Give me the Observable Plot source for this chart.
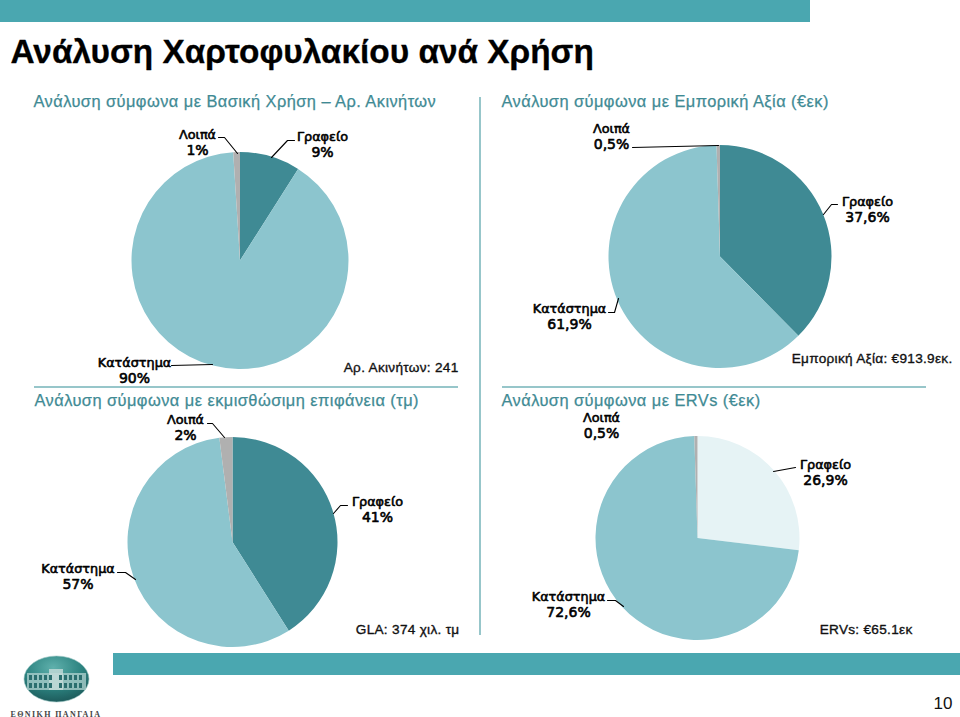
<!DOCTYPE html>
<html lang="el">
<head>
<meta charset="utf-8">
<script src="https://cdn.jsdelivr.net/npm/d3@7"></script>
<script src="https://cdn.jsdelivr.net/npm/@observablehq/plot@0.6"></script>
<style>html,body{margin:0;padding:0;background:#fff}svg{display:block}</style>
</head>
<body>
<div id="chart"></div>
<script>
// Data
const categories = ["Γραφείο", "Κατάστημα", "Λοιπά"];
const useValues = [9, 90, 1];
const marketValues = [37.6, 61.9, 0.5];
const areaValues = [41, 57, 2];
const ervValues = [26.9, 72.6, 0.5];
const useLabels = ["9%", "90%", "1%"];
const marketLabels = ["37,6%", "61,9%", "0,5%"];
const areaLabels = ["41%", "57%", "2%"];
const ervLabels = ["26,9%", "72,6%", "0,5%"];
const titleText = "Ανάλυση Χαρτοφυλακίου ανά Χρήση";
const subtitles = ["Ανάλυση σύμφωνα με Βασική Χρήση – Αρ. Ακινήτων", "Ανάλυση σύμφωνα με Εμπορική Αξία (€εκ)", "Ανάλυση σύμφωνα με εκμισθώσιμη επιφάνεια (τμ)", "Ανάλυση σύμφωνα με ERVs (€εκ)"];
const totals = ["Αρ. Ακινήτων: 241", "Εμπορική Αξία: €913.9εκ.", "GLA: 374 χιλ. τμ", "ERVs: €65.1εκ"];

// Layout and styling
const DARK = "#3f8a94", LIGHT = "#8cc5ce", PALE = "#e6f3f5", GREY = "#b0b0b0", TEAL = "#4aa7b0", RULE = "#74b3b9";
const pieLayout = [
  {values: useValues, labels: useLabels, cx: 240, cy: 260.5, r: 108.5, fills: [DARK, LIGHT, GREY],
   text: [[322, 140], [134, 366], [197, 138]]},
  {values: marketValues, labels: marketLabels, cx: 720, cy: 256.5, r: 111.5, fills: [DARK, LIGHT, GREY],
   text: [[867, 205], [569, 312], [611, 132]]},
  {values: areaValues, labels: areaLabels, cx: 232.5, cy: 542, r: 105, fills: [DARK, LIGHT, GREY],
   text: [[377, 505], [77.5, 572], [185, 423]]},
  {values: ervValues, labels: ervLabels, cx: 697.5, cy: 538, r: 102, fills: [PALE, LIGHT, GREY],
   text: [[825, 468], [568, 600], [601, 421]]}
];
const leaders = [
  [[218,137],[224,137],[237,153]], [[294,140],[287,140],[271,157]], [[171,365],[212,364]],
  [[632,147],[718,145]], [[837,204],[831,204],[823,214]], [[608,312],[614,312],[618,298]],
  [[207,423],[212,423],[224,437]], [[347,505],[340,505],[333,513]], [[117,572],[125,572],[135,579]],
  [[795,467],[773,471]], [[607,600],[615,600],[623,606]]
].flatMap((pts, id) => pts.map(([x, y]) => ({id, x, y})));

const slices = pieLayout.flatMap(p =>
  d3.pie().sort(null)(p.values).map((a, i) => ({...a, cx: p.cx, cy: p.cy, radius: p.r, fill: p.fills[i]}))
);
const labelRows = pieLayout.flatMap(p => categories.map((c, i) => ({
  x: p.text[i][0], y: p.text[i][1], name: c, pct: p.labels[i]
})));
const subtitlePos = [[33, 106], [501, 106], [34, 405], [501, 405]];
const totalPos = [[458, 371], [952, 362], [459, 633], [912, 633]];

const sans = "'Liberation Sans', Arial, sans-serif";
const labelFont = "'DejaVu Sans', Verdana, sans-serif";

// Pie slices: Plot computes the positions and fills, d3.arc draws the wedge
function pieRender(index, scales, values) {
  const g = d3.create("svg:g");
  for (const i of index) {
    const s = slices[i];
    const rad = scales.x(s.cx + s.radius) - scales.x(s.cx);
    g.append("path")
      .attr("transform", `translate(${values.x[i]},${values.y[i]})`)
      .attr("d", d3.arc().innerRadius(0).outerRadius(rad)(s))
      .attr("fill", values.fill ? values.fill[i] : s.fill);
  }
  return g.node();
}

// Logo: emblem behind the wordmark
function logo(index, {x, y}) {
  const g = d3.create("svg:g");
  const defs = g.append("defs");
  const grad = defs.append("radialGradient").attr("id", "lg").attr("cx", "45%").attr("cy", "25%").attr("r", "80%");
  grad.append("stop").attr("offset", "0").attr("stop-color", "#5fb0ac");
  grad.append("stop").attr("offset", "0.55").attr("stop-color", "#2c8380");
  grad.append("stop").attr("offset", "1").attr("stop-color", "#1b5556");
  g.append("ellipse").attr("cx", x(56.5)).attr("cy", y(679)).attr("rx", 32.5).attr("ry", 23)
    .attr("fill", "url(#lg)").attr("stroke", "#9cc6c4").attr("stroke-width", 0.6);
  g.append("rect").attr("x", x(27)).attr("y", y(673)).attr("width", 59).attr("height", 17).attr("fill", "#a9cdca").attr("opacity", 0.8);
  g.append("rect").attr("x", x(49)).attr("y", y(669)).attr("width", 14).attr("height", 21).attr("fill", "#c5dcd9").attr("opacity", 0.8);
  for (const yy of [675, 683]) {
    for (let k = 0; k < 11; k++) {
      if (k === 5) continue;
      g.append("rect").attr("x", x(29 + k * 5)).attr("y", y(yy)).attr("width", 3).attr("height", 5).attr("fill", "#2a6e6e");
    }
  }
  return g.node();
}

const chart = Plot.plot({
  width: 960, height: 717, margin: 0,
  x: {domain: [0, 960], range: [0, 960], axis: null},
  y: {domain: [0, 717], range: [0, 717], axis: null},
  marks: [
    Plot.rect([{a: 0, b: 810, c: 0, d: 22}, {a: 113, b: 960, c: 653, d: 675}], {x1: "a", x2: "b", y1: "c", y2: "d", fill: TEAL}),
    Plot.ruleY([386.5], {x1: 34, x2: 458, stroke: RULE, strokeWidth: 1.5}),
    Plot.ruleY([386.5], {x1: 502, x2: 926, stroke: RULE, strokeWidth: 1.5}),
    Plot.ruleX([479.5], {y1: 97, y2: 635, stroke: RULE, strokeWidth: 1.5}),
    Plot.dot(slices, {x: "cx", y: "cy", fill: "fill", render: pieRender}),
    Plot.line(leaders, {x: "x", y: "y", z: "id", stroke: "#000", strokeWidth: 1.1, curve: "linear"}),
    Plot.text([titleText], {x: 10, y: 62, text: d => d, textAnchor: "start", lineAnchor: "bottom", fontFamily: sans, fontWeight: "bold", fontSize: 33.4, fill: "#000", stroke: "#000", strokeWidth: 0.3, className: "ttl"}),
    Plot.text(subtitles, {x: (d, i) => subtitlePos[i][0], y: (d, i) => subtitlePos[i][1], text: d => d, textAnchor: "start", lineAnchor: "bottom", fontFamily: sans, fontSize: 16.4, fill: DARK, stroke: DARK, strokeWidth: 0.25, className: "sub"}),
    Plot.text(totals, {x: (d, i) => totalPos[i][0], y: (d, i) => totalPos[i][1], text: d => d, textAnchor: "end", lineAnchor: "bottom", fontFamily: sans, fontSize: 13.6, fill: "#111", stroke: "#111", strokeWidth: 0.35, className: "tot"}),
    Plot.text(labelRows, {x: "x", y: "y", text: "name", lineAnchor: "bottom", fontFamily: labelFont, fontSize: 12.8, fill: "#000", stroke: "#000", strokeWidth: 0.6}),
    Plot.text(labelRows, {x: "x", y: d => d.y + 16, text: "pct", lineAnchor: "bottom", fontFamily: labelFont, fontSize: 14, fill: "#000", stroke: "#000", strokeWidth: 0.6}),
    logo,
    Plot.text(["ΕΘΝΙΚΗ ΠΑΝΓΑΙΑ"], {x: 55.5, y: 716, text: d => d, lineAnchor: "bottom", fontFamily: "'Liberation Serif', serif", fontSize: 8, fontWeight: "bold", fill: "#444", className: "wm"}),
    Plot.text(["10"], {x: 952, y: 708, text: d => d, textAnchor: "end", lineAnchor: "bottom", fontFamily: sans, fontSize: 17, fill: "#111"})
  ]
});
// Plot.text has no letter-spacing option: set it on the rendered groups
const spacing = {sub: 0.45, tot: 0.3, wm: 1.4};
for (const [cls, v] of Object.entries(spacing)) {
  d3.select(chart).selectAll(`g.${cls}`).attr("letter-spacing", v);
}
document.getElementById("chart").append(chart);
</script>
</body>
</html>
